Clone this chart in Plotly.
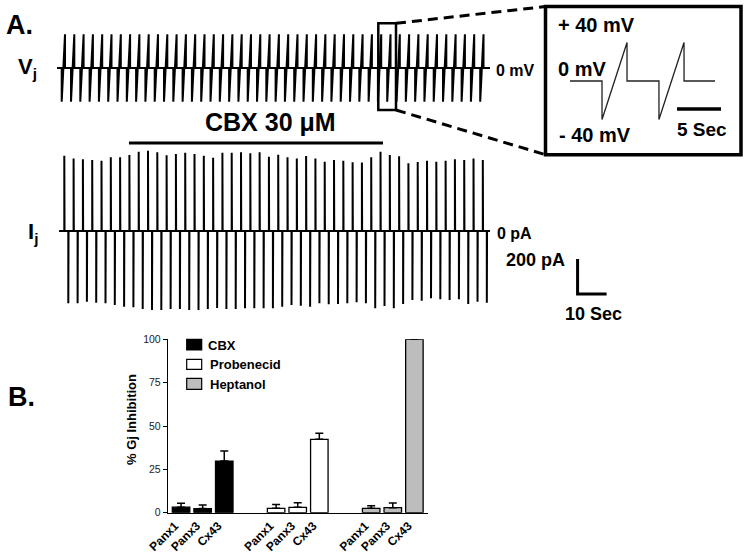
import plotly.graph_objects as go

W, H = 744, 557
def px(x): return x / W
def py(y): return 1 - y / H

FONT = "Liberation Sans, Arial, Helvetica, sans-serif"

# ---------------- data ----------------
# Panel A: junctional voltage protocol (mV)
vj_step_mv = -40
vj_ramp_end_mv = 40
n_cycles = 46
cycle_period_s = 3.207
vj_first_peak_s = 3.45
vj_ramp_s = 1.14
ij_first_peak_s = 3.207
ij_neg_delay_s = 1.38

# Panel A: junctional current peaks per cycle (pA)
ij_peak_pa = [430, 415, 410, 406, 402, 421, 421, 434, 453, 459, 450, 433, 440, 447, 440, 430,
              419, 447, 447, 450, 444, 450, 425, 436, 421, 415, 429, 415, 396, 406, 402, 393,
              391, 421, 453, 434, 427, 387, 394, 402, 396, 402, 410, 406, 415, 406]
ij_trough_pa = [413, 413, 404, 410, 413, 423, 433, 436, 446, 451, 451, 446, 446, 451, 451, 446,
                440, 446, 446, 442, 442, 442, 442, 433, 423, 427, 433, 413, 419, 417, 413, 407,
                413, 442, 429, 442, 417, 394, 398, 385, 390, 394, 390, 417, 404, 410]

# CBX application window (s)
cbx_window_s = [25.5, 113.1]

# Inset: expanded voltage protocol
inset_t_s = [2.84, 6.48, 6.48, 9.32, 9.32, 12.95, 12.95, 15.8, 15.8, 19.32]
inset_v_mv = [0, 0, -40, 40, 0, 0, -40, 40, 0, 0]

# Panel B: % Gj inhibition
channels = ["Panx1", "Panx3", "Cx43"]
treatments = ["CBX", "Probenecid", "Heptanol"]
inhib_cbx = [3.2, 2.4, 29.8]
err_cbx = [2.3, 2.0, 5.8]
inhib_probenecid = [2.5, 3.1, 42.3]
err_probenecid = [2.3, 2.7, 3.5]
inhib_heptanol = [2.5, 2.9, 100.0]
err_heptanol = [1.5, 2.7, None]
y_ticks = [0, 25, 50, 75, 100]

# ---------------- build traces ----------------
fig = go.Figure()

# Vj trace
vx, vy = [0.7], [0]
for i in range(n_cycles):
    tu = vj_first_peak_s + cycle_period_s * i
    td = tu - vj_ramp_s
    vx += [td, td, tu, tu]
    vy += [0, vj_step_mv, vj_ramp_end_mv, 0]
vx.append(150.0); vy.append(0)
fig.add_trace(go.Scatter(x=vx, y=vy, mode="lines", line=dict(color="black", width=2),
                         xaxis="x", yaxis="y", showlegend=False, hoverinfo="skip"))

# Ij trace
ix, iy = [1.4], [0]
for i in range(n_cycles):
    tu = ij_first_peak_s + cycle_period_s * i
    td = tu + ij_neg_delay_s
    ix += [tu, tu, tu + 0.08, td, td, td + 0.08]
    iy += [0, ij_peak_pa[i], 0, 0, -ij_trough_pa[i], 0]
ix.append(150.0); iy.append(0)
fig.add_trace(go.Scatter(x=ix, y=iy, mode="lines", line=dict(color="black", width=2),
                         xaxis="x2", yaxis="y2", showlegend=False, hoverinfo="skip"))

# scale bar 200 pA / 10 s
fig.add_trace(go.Scatter(x=[180.2, 180.2, 190.2], y=[-160, -360, -360], mode="lines",
                         line=dict(color="black", width=3), xaxis="x2", yaxis="y2",
                         showlegend=False, hoverinfo="skip"))

# inset trace
fig.add_trace(go.Scatter(x=inset_t_s, y=inset_v_mv, mode="lines",
                         line=dict(color="#222222", width=1.3), xaxis="x3", yaxis="y3",
                         showlegend=False, hoverinfo="skip"))
# inset 5 s scale bar
fig.add_trace(go.Scatter(x=[15.0, 20.0], y=[-29.1, -29.1], mode="lines",
                         line=dict(color="black", width=3.5), xaxis="x3", yaxis="y3",
                         showlegend=False, hoverinfo="skip"))

# bars
group_step = 4.4
colors = ["black", "white", "#bdbdbd"]
series = [(inhib_cbx, err_cbx), (inhib_probenecid, err_probenecid), (inhib_heptanol, err_heptanol)]
tickvals, ticktext = [], []
for g, (vals, errs) in enumerate(series):
    xs = [g * group_step + k for k in range(len(channels))]
    tickvals += xs
    ticktext += channels
    fig.add_trace(go.Bar(x=xs, y=vals, width=0.81, name=treatments[g],
                         marker=dict(color=colors[g], line=dict(color="black", width=1.3)),
                         error_y=dict(type="data", symmetric=False, array=errs,
                                      arrayminus=[0, 0, 0], color="black",
                                      thickness=1.5, width=4),
                         xaxis="x4", yaxis="y4", showlegend=False, hoverinfo="skip"))

hidden = dict(visible=False, showgrid=False, zeroline=False, fixedrange=True, automargin=False)
fig.update_layout(
    template="none",
    width=W, height=H, margin=dict(l=0, r=0, t=0, b=0, pad=0, autoexpand=False),
    paper_bgcolor="white", plot_bgcolor="rgba(0,0,0,0)",
    barmode="overlay", showlegend=False,
    font=dict(family=FONT, color="black"),
    xaxis=dict(domain=[px(55), px(495)], range=[0, 440 / 2.9], anchor="y", **hidden),
    yaxis=dict(domain=[py(112), py(24)], range=[-52.1, 52.1], anchor="x", **hidden),
    xaxis2=dict(domain=[px(55), px(640)], range=[0, 585 / 2.9], anchor="y2", **hidden),
    yaxis2=dict(domain=[py(320), py(135)], range=[-508.6, 548.6], anchor="x2", **hidden),
    xaxis3=dict(domain=[px(545), px(741)], range=[0, 196 / 8.8], anchor="y3", **hidden),
    yaxis3=dict(domain=[py(155), py(6)], range=[-76.9, 77.9], anchor="x3", **hidden),
    xaxis4=dict(domain=[px(168.3), px(428)], range=[-0.59, 11.43], anchor="y4",
                tickvals=tickvals, ticktext=ticktext, tickangle=-45, ticks="",
                showline=True, linecolor="black", linewidth=1.5, showgrid=False,
                zeroline=False, automargin=False, ticklabelshift=-6,
                tickfont=dict(size=12, family=FONT, weight="bold", color="black")),
    yaxis4=dict(domain=[py(512.7), py(339.3)], range=[0, 100], anchor="x4",
                tickvals=y_ticks, ticks="outside", ticklen=4, tickcolor="black", tickwidth=1,
                showline=True, linecolor="black", linewidth=1.5, showgrid=False,
                zeroline=False, automargin=False,
                tickfont=dict(size=10.5, family=FONT, color="#222")),
)

shapes = []
# small box on Vj trace
shapes.append(dict(type="rect", xref="paper", yref="paper", x0=px(378.3), x1=px(396),
                   y0=py(110), y1=py(23.3), line=dict(color="black", width=2.5)))
# inset box
shapes.append(dict(type="rect", xref="paper", yref="paper", x0=px(545.5), x1=px(741),
                   y0=py(154.7), y1=py(6.5), line=dict(color="black", width=3.5)))
# dashed connectors
shapes.append(dict(type="line", xref="paper", yref="paper", x0=px(396), y0=py(23.3),
                   x1=px(545.5), y1=py(6.5), line=dict(color="black", width=3, dash="10px,6px")))
shapes.append(dict(type="line", xref="paper", yref="paper", x0=px(396), y0=py(110),
                   x1=px(545.5), y1=py(154.7), line=dict(color="black", width=3, dash="10px,6px")))
# CBX application bar
shapes.append(dict(type="line", xref="x2", yref="y2", x0=cbx_window_s[0], x1=cbx_window_s[1],
                   y0=502.9, y1=502.9, line=dict(color="black", width=3)))
# legend squares
leg_y = [(339.3, 350), (359.3, 369.3), (378.3, 389.3)]
for k, (y0, y1) in enumerate(leg_y):
    shapes.append(dict(type="rect", xref="paper", yref="paper", x0=px(186.7), x1=px(201.7),
                       y0=py(y1), y1=py(y0), fillcolor=colors[k],
                       line=dict(color="black", width=1.2)))
fig.update_layout(shapes=shapes)

def ann(text, x, y, size, xanchor="center", bold=True, angle=0, yanchor="middle"):
    return dict(text=text, x=px(x), y=py(y), xref="paper", yref="paper", showarrow=False,
                xanchor=xanchor, yanchor=yanchor, textangle=angle,
                font=dict(size=size, family=FONT, color="black",
                          weight="bold" if bold else "normal"))

annotations = [
    ann("A.", 4, 25, 27, xanchor="left"),
    ann("B.", 6, 397, 27, xanchor="left"),
    ann("V<sub>j</sub>", 16, 68, 22, xanchor="left"),
    ann("I<sub>j</sub>", 26, 233, 22, xanchor="left"),
    ann("0 mV", 494, 70, 16, xanchor="left"),
    ann("0 pA", 495, 233.5, 16, xanchor="left"),
    ann("CBX 30 μM", 203, 122, 25, xanchor="left"),
    ann("200 pA", 567, 260, 18, xanchor="right"),
    ann("10 Sec", 593, 314, 18),
    ann("+ 40 mV", 556, 25, 20, xanchor="left"),
    ann("0 mV", 556, 69, 20, xanchor="left"),
    ann("- 40 mV", 557, 135, 20, xanchor="left"),
    ann("5 Sec", 702, 129, 19),
    ann("CBX", 206.5, 345, 13, xanchor="left"),
    ann("Probenecid", 208.5, 364.7, 13, xanchor="left"),
    ann("Heptanol", 208, 384, 13, xanchor="left"),
    ann("% Gj Inhibition", 131, 420, 13, angle=-90),
]
fig.update_layout(annotations=annotations)

fig.write_html("out.html", config={"displayModeBar": False, "staticPlot": True},
               post_script="document.body.style.margin='0px';")
